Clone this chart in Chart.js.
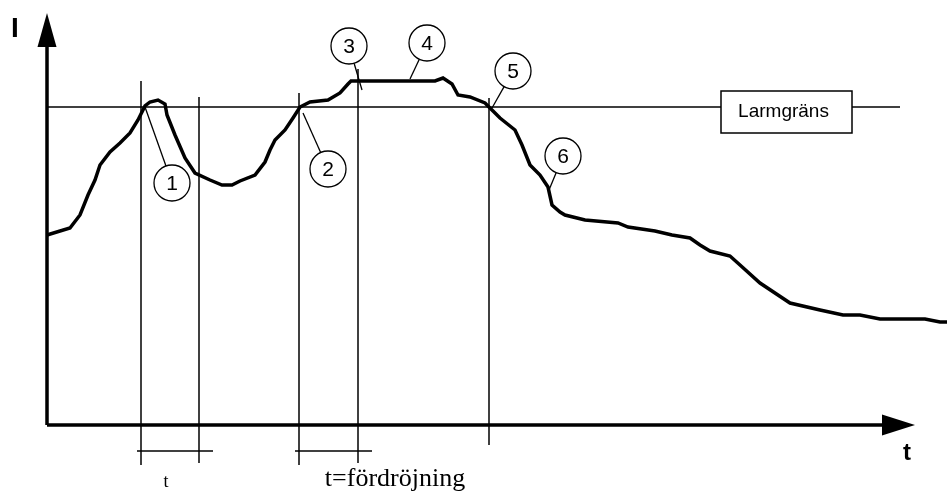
<!DOCTYPE html>
<html>
<head>
<meta charset="utf-8">
<script src="https://cdn.jsdelivr.net/npm/chart.js@4.4.1/dist/chart.umd.min.js"></script>
<style>
body{margin:0;background:#fff;}
#wrap{width:947px;height:491px;}
</style>
</head>
<body>
<div id="wrap"><canvas id="larmChart" width="947" height="491"></canvas></div>
<script>
// ström I över tid t (godtyckliga enheter)
const tValues=[0,23,33,41,48,53,63,73,83,91,98,103,111,118,120,128,138,148,163,175,185,193,208,218,223,228,238,246,253,263,281,293,301,304,388,396,405,411,423,438,443,453,468,475,483,493,501,505,513,518,538,571,581,608,625,643,653,663,683,693,713,743,773,796,813,833,878,893,900];
const iValues=[190,197,210,230,245,260,273,282,292,305,319,323,325,321,310,290,267,252,245,240,240,244,250,263,275,285,295,307,318,323,325,332,341,344,344,347,341,330,328,322,317,307,295,280,260,250,238,220,213,210,205,202,198,194,190,187,180,174,169,160,142,122,115,110,110,106,106,103,103];

const larmLevel=318;
const larmEnd=853;

// vertikala markeringar: t, övre I, nedre I
const markT=[94,152,252,311,442];
const markTop=[344,328,332,356,327];
const markBottom=[-40,-38,-40,-38,-20];

// fördröjningsintervall
const spanStart=[90,248];
const spanEnd=[166,325];
const spanLevel=-26;

// numrerade hänvisningar: cirkelcentrum och pekarlinje
const calloutText=["1","2","3","4","5","6"];
const calloutT=[125,281,302,380,466,516];
const calloutI=[242,256,379,382,354,269];
const pointerT=[98,256,315,363,445,502];
const pointerI=[318,312,335,346,317,235];

const axisLen=868;
const axisHeight=412;

const datasets=[
{
    label:"I",
    data:tValues.map((t,i)=>({x:t,y:iValues[i]})),
    borderColor:"#000",
    borderWidth:3.5,
    pointRadius:0,
    tension:0
},
{
    label:"Larmgräns",
    data:[{x:0,y:larmLevel},{x:larmEnd,y:larmLevel}],
    borderColor:"#000",
    borderWidth:1.5,
    pointRadius:0
}];

markT.forEach((t,i)=>{
    datasets.push({
        data:[{x:t,y:markBottom[i]},{x:t,y:markTop[i]}],
        borderColor:"#000",
        borderWidth:1.5,
        pointRadius:0
    });
});
spanStart.forEach((s,i)=>{
    datasets.push({
        data:[{x:s,y:spanLevel},{x:spanEnd[i],y:spanLevel}],
        borderColor:"#000",
        borderWidth:1.5,
        pointRadius:0
    });
});

const sketch={
    id:"sketch",
    afterDatasetsDraw(chart){
        const ctx=chart.ctx;
        const xs=chart.scales.x, ys=chart.scales.y;
        const px=v=>xs.getPixelForValue(v);
        const py=v=>ys.getPixelForValue(v);
        ctx.save();
        ctx.strokeStyle="#000";
        ctx.fillStyle="#000";

        // axlar
        ctx.lineWidth=3.5;
        ctx.beginPath();
        ctx.moveTo(px(0),py(0));
        ctx.lineTo(px(axisLen-30),py(0));
        ctx.moveTo(px(0),py(0));
        ctx.lineTo(px(0),py(axisHeight-30));
        ctx.stroke();
        ctx.beginPath();
        ctx.moveTo(px(axisLen),py(0));
        ctx.lineTo(px(axisLen-33),py(0)-10.5);
        ctx.lineTo(px(axisLen-33),py(0)+10.5);
        ctx.closePath();
        ctx.fill();
        ctx.beginPath();
        ctx.moveTo(px(0),py(axisHeight));
        ctx.lineTo(px(0)-9.5,py(axisHeight-34));
        ctx.lineTo(px(0)+9.5,py(axisHeight-34));
        ctx.closePath();
        ctx.fill();

        ctx.textAlign="center";
        ctx.textBaseline="alphabetic";
        ctx.font="bold 24px 'Liberation Sans'";
        ctx.fillText("t",907,460);
        ctx.font="bold 28px 'Liberation Sans'";
        ctx.fillText("I",15,37);

        // hänvisningar
        ctx.textBaseline="middle";
        ctx.lineWidth=1.3;
        ctx.font="21px 'Liberation Sans'";
        calloutText.forEach((txt,i)=>{
            const cx=px(calloutT[i]), cy=py(calloutI[i]);
            const tx=px(pointerT[i]), ty=py(pointerI[i]);
            const a=Math.atan2(ty-cy,tx-cx);
            ctx.beginPath();
            ctx.moveTo(cx+18*Math.cos(a),cy+18*Math.sin(a));
            ctx.lineTo(tx,ty);
            ctx.stroke();
            ctx.beginPath();
            ctx.arc(cx,cy,18,0,Math.PI*2);
            ctx.fillStyle="#fff";
            ctx.fill();
            ctx.stroke();
            ctx.fillStyle="#000";
            ctx.fillText(txt,cx,cy+1);
        });

        // larmgränsruta
        const bx=px(674), by=py(334), bw=px(805)-px(674), bh=py(292)-py(334);
        ctx.fillStyle="#fff";
        ctx.fillRect(bx,by,bw,bh);
        ctx.lineWidth=1.5;
        ctx.strokeRect(bx,by,bw,bh);
        ctx.fillStyle="#000";
        ctx.font="19px 'Liberation Sans'";
        ctx.fillText("Larmgräns",bx+bw/2-3,by+bh/2);

        // tidstexter
        ctx.textBaseline="alphabetic";
        ctx.font="18px 'Liberation Serif'";
        ctx.fillText("t",px(119),487);
        ctx.font="26px 'Liberation Serif'";
        ctx.fillText("t=fördröjning",px(348),486);
        ctx.restore();
    }
};

const larmChart=new Chart(
document.getElementById("larmChart"),
{
    type:"line",
    data:{datasets:datasets},
    options:{
        responsive:false,
        animation:false,
        layout:{padding:0},
        plugins:{legend:{display:false},tooltip:{enabled:false}},
        scales:{
            x:{type:"linear",min:-47,max:900,display:false},
            y:{type:"linear",min:-66,max:425,display:false}
        }
    },
    plugins:[sketch]
});
</script>
</body>
</html>
